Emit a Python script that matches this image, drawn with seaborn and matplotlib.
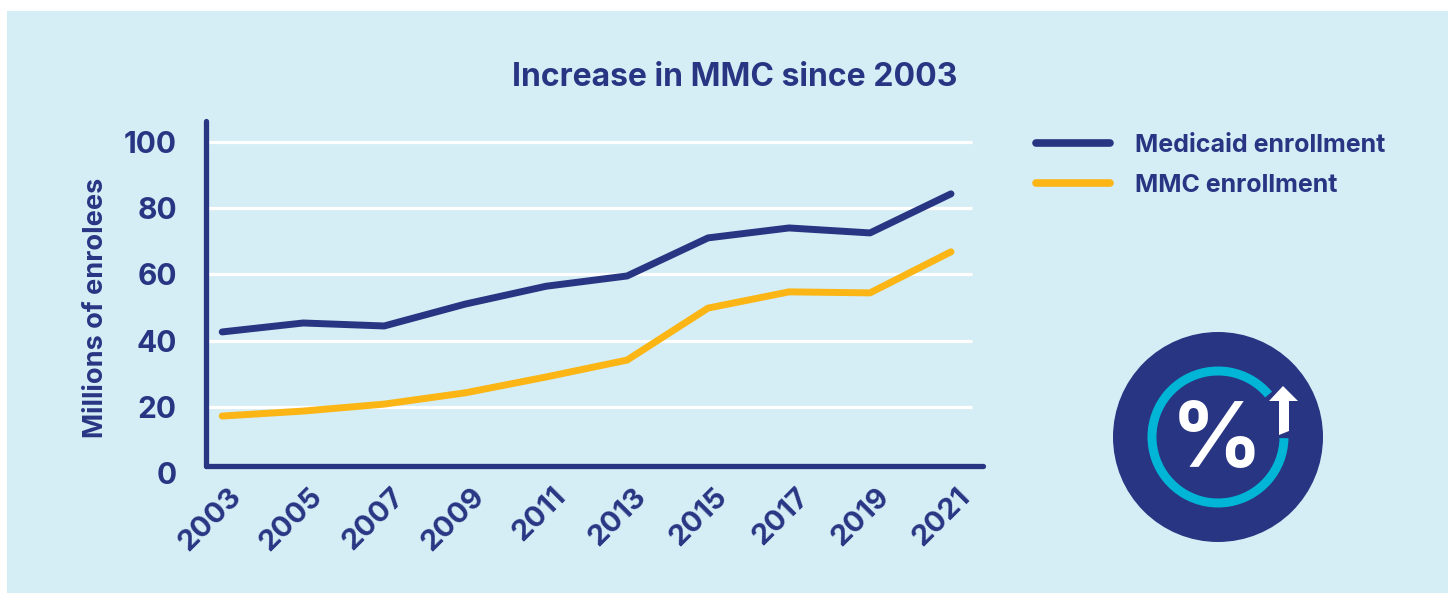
import matplotlib
matplotlib.use("Agg")
import matplotlib.pyplot as plt
from matplotlib.patches import Circle, Wedge, Polygon, Rectangle
from matplotlib.lines import Line2D
from matplotlib.transforms import ScaledTranslation
import seaborn as sns
import pandas as pd

years = [2003, 2005, 2007, 2009, 2011, 2013, 2015, 2017, 2019, 2021]
medicaid = [42.6, 45.3, 44.4, 51.0, 56.4, 59.5, 71.0, 74.0, 72.5, 84.3]
mmc = [17.2, 18.7, 20.8, 24.2, 29.0, 34.1, 49.8, 54.7, 54.4, 66.8]
series_names = ["Medicaid enrollment", "MMC enrollment"]
y_ticks = [0, 20, 40, 60, 80, 100]
title = "Increase in MMC since 2003"
y_label = "Millions of enrolees"

NAVY = "#283583"
YELLOW = "#FBB615"
CYAN = "#00B5D5"
PANEL = "#D5EDF5"
W, H = 1448, 593
FONT = "Inter"

sns.set_theme(style="white")
plt.rcParams["font.family"] = [FONT, "DejaVu Sans"]
plt.rcParams["font.weight"] = "bold"

fig = plt.figure(figsize=(W / 100, H / 100), dpi=100, facecolor="white")
fig.patches.append(Rectangle((7 / W, 0), 1 - 7 / W, 1 - 11 / H, transform=fig.transFigure,
                             facecolor=PANEL, edgecolor="none", zorder=-5))

# main axes: left=206, right=985, y pixels 473 (value 0) to 121
ax = fig.add_axes([206 / W, (H - 473) / H, (985 - 206) / W, (473 - 121) / H])
ax.patch.set_alpha(0)

df = pd.DataFrame({"year": years * 2,
                   "value": medicaid + mmc,
                   "series": [series_names[0]] * len(years) + [series_names[1]] * len(years)})

AXIS_FLOOR = 2.1
ax.hlines(y_ticks[1:], 0, 0.983, transform=ax.get_yaxis_transform(), color="white", lw=2.3, zorder=1)
sns.lineplot(data=df, x="year", y="value", hue="series", hue_order=series_names,
             palette=[NAVY, YELLOW], lw=5, ax=ax, legend=False, zorder=3,
             solid_capstyle="round", solid_joinstyle="round")

ax.set_xlim(2002.6, 2021.84)
ax.set_ylim(0, 106.3)
ax.set_xticks(years)
ax.set_yticks(y_ticks)
ax.set_xlabel("")
ax.set_ylabel(y_label, fontsize=19.5, color=NAVY, fontweight="bold", labelpad=0)
ax.yaxis.set_label_coords((109 - 206) / (985 - 206), (473 - 308) / (473 - 121))

for s in ("top", "right"):
    ax.spines[s].set_visible(False)
for s in ("left", "bottom"):
    ax.spines[s].set_color(NAVY)
    ax.spines[s].set_linewidth(3.8)
    ax.spines[s].set_capstyle("round")
    ax.spines[s].set_zorder(4)
ax.spines["bottom"].set_position(("data", AXIS_FLOOR))
ax.spines["bottom"].set_bounds(2002.6, 2021.8)
ax.spines["left"].set_bounds(AXIS_FLOOR, 106.3)

ax.tick_params(axis="y", length=0, pad=21, labelsize=21.5, labelcolor=NAVY)
ax.tick_params(axis="x", length=0, pad=12, labelsize=21, labelcolor=NAVY)
shift = ScaledTranslation(6 / 100, 0, fig.dpi_scale_trans)
for lab in ax.get_xticklabels():
    lab.set_rotation(45)
    lab.set_ha("right")
    lab.set_rotation_mode("anchor")
    lab.set_fontweight("bold")
    lab.set_transform(lab.get_transform() + shift)
for lab in ax.get_yticklabels():
    lab.set_fontweight("bold")

fig.text(735 / W, 1 - 77 / H, title, ha="center", va="center", fontsize=23,
         color=NAVY, fontweight="bold")

handles = [Line2D([], [], color=NAVY, lw=5.5, solid_capstyle="round"),
           Line2D([], [], color=YELLOW, lw=5.5, solid_capstyle="round")]
fig.legend(handles, series_names, loc="upper left", frameon=False,
           bbox_to_anchor=(1036 / W, 1 - 134 / H), bbox_transform=fig.transFigure,
           handlelength=2.95, handletextpad=1.0, labelspacing=0.66, borderpad=0, borderaxespad=0,
           prop={"size": 18, "weight": "bold", "family": [FONT, "DejaVu Sans"]},
           labelcolor=NAVY)

# icon, drawn in a pixel-sized overlay
ov = fig.add_axes([0, 0, 1, 1], facecolor="none")
ov.set_xlim(0, W)
ov.set_ylim(H, 0)
ov.axis("off")
cx, cy = 1218, 437
ov.add_patch(Circle((cx, cy), 105, facecolor=NAVY, edgecolor="none"))
# y axis inverted: angles run clockwise on screen
ov.add_patch(Wedge((cx, cy), 70.5, 1, 320, width=9, facecolor=CYAN, edgecolor="none"))
ov.add_patch(Polygon([(1283, 386), (1298, 401), (1289, 401), (1289, 431), (1279, 435),
                      (1279, 401), (1269, 401)], closed=True, facecolor="white", edgecolor="none"))
ov.text(1217, 443, "%", ha="center", va="center", fontsize=65, color="white", fontweight="bold")

fig.savefig("out.png", dpi=100, facecolor=fig.get_facecolor())
